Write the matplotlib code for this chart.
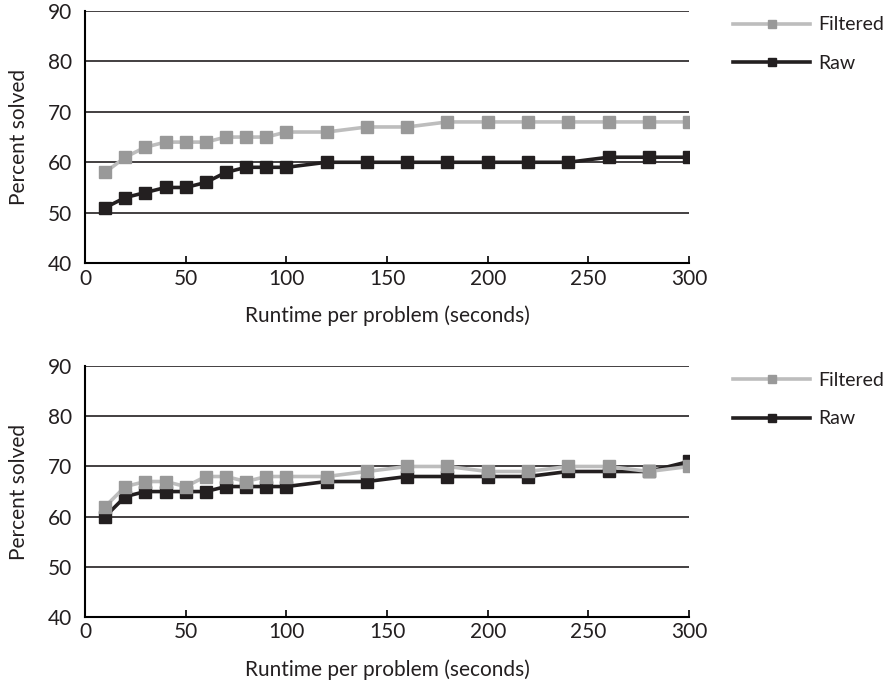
import matplotlib.pyplot as plt

# data
runtime = [10, 20, 30, 40, 50, 60, 70, 80, 90, 100, 120, 140, 160, 180, 200, 220, 240, 260, 280, 300]

top_filtered = [58, 61, 63, 64, 64, 64, 65, 65, 65, 66, 66, 67, 67, 68, 68, 68, 68, 68, 68, 68]
top_raw = [51, 53, 54, 55, 55, 56, 58, 59, 59, 59, 60, 60, 60, 60, 60, 60, 60, 61, 61, 61]

bottom_filtered = [62, 66, 67, 67, 66, 68, 68, 67, 68, 68, 68, 69, 70, 70, 69, 69, 70, 70, 69, 70]
bottom_raw = [60, 64, 65, 65, 65, 65, 66, 66, 66, 66, 67, 67, 68, 68, 68, 68, 69, 69, 69, 71]

x_ticks = [0, 50, 100, 150, 200, 250, 300]
y_ticks = [40, 50, 60, 70, 80, 90]

plt.rcParams['font.family'] = ['Lato', 'DejaVu Sans']

fig = plt.figure(figsize=(8.91, 6.87), dpi=100)
ax1 = fig.add_axes([0.0954, 0.617, 0.678, 0.367])
ax2 = fig.add_axes([0.0954, 0.102, 0.678, 0.365])

fs = 15
for ax, filt, raw in [(ax1, top_filtered, top_raw), (ax2, bottom_filtered, bottom_raw)]:
    for y in y_ticks[1:]:
        ax.axhline(y, color='#231f20', linewidth=1.2, zorder=1)
    ax.plot(runtime, filt, color='#bdbdbd', linewidth=2.6, marker='s', markersize=8.5,
            markerfacecolor='#999999', markeredgecolor='#999999', label='Filtered', zorder=3)
    ax.plot(runtime, raw, color='#231f20', linewidth=2.6, marker='s', markersize=8.5,
            markerfacecolor='#231f20', markeredgecolor='#231f20', label='Raw', zorder=2)
    ax.set_xlim(0, 300)
    ax.set_ylim(40, 90)
    ax.set_xticks(x_ticks)
    ax.set_yticks(y_ticks)
    ax.tick_params(axis='x', direction='in', length=5, width=1.2, labelsize=fs, pad=4,
                   labelcolor='#231f20')
    ax.tick_params(axis='y', length=0, labelsize=fs, pad=9, labelcolor='#231f20')
    ax.spines['top'].set_visible(False)
    ax.spines['right'].set_visible(False)
    ax.spines['left'].set_linewidth(1.5)
    ax.spines['bottom'].set_linewidth(1.5)
    ax.set_xlabel('Runtime per problem (seconds)', fontsize=fs, labelpad=12, color='#231f20')
    ax.set_ylabel('Percent solved', fontsize=fs, labelpad=14, color='#231f20')
    leg = ax.legend(loc='upper left', bbox_to_anchor=(1.044, 1.048), frameon=False,
                    fontsize=14, handlelength=3.95, labelspacing=1.12, handletextpad=0.4,
                    markerscale=0.75)
    for t in leg.get_texts():
        t.set_color('#231f20')

plt.savefig('out.png', dpi=100)
